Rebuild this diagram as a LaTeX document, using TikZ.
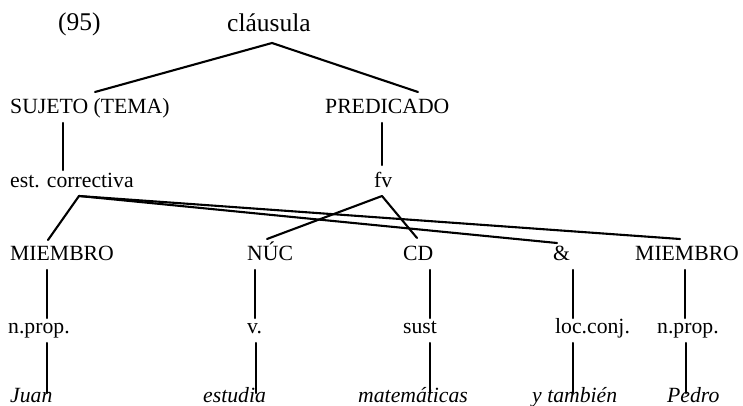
\documentclass[tikz,border=0pt]{standalone}
\usepackage{fontspec}
\setmainfont{Liberation Serif}
\usetikzlibrary{calc}
\begin{document}
\begin{tikzpicture}[x=1pt,y=-1pt,
  lbl/.style={inner sep=0pt, anchor=base west, font=\fontsize{21.7}{26}\selectfont},
  big/.style={lbl, font=\fontsize{25.5}{30}\selectfont},
  ital/.style={lbl, font=\fontsize{21.7}{26}\selectfont\itshape},
  edge/.style={line width=2.1pt, line cap=round, line join=round}]
\useasboundingbox (0,0) rectangle (743,406);
% row 1
\node[big] (num) at (58,31) {(95)};
\node[big] (cl) at (227,32) {cláusula};
% row 2
\node[lbl] (suj) at (10,114) {SUJETO (TEMA)};
\node[lbl] (pred) at (325,114) {PREDICADO};
% row 3
\node[lbl] (est) at (10,187) {est. correctiva};
\node[lbl] (fv) at (374,187) {fv};
% row 4
\node[lbl] (m1) at (10,260) {MIEMBRO};
\node[lbl] (nuc) at (247,260) {NÚC};
\node[lbl] (cd) at (403,260) {CD};
\node[lbl] (amp) at (553,260) {\&};
\node[lbl] (m2) at (635,260) {MIEMBRO};
% row 5
\node[lbl] (np1) at (8,333) {n.prop.};
\node[lbl] (v) at (247,333) {v.};
\node[lbl] (sust) at (403,333) {sust};
\node[lbl] (loc) at (555,333) {loc.conj.};
\node[lbl] (np2) at (657,333) {n.prop.};
% row 6
\node[ital] (juan) at (10,402) {Juan};
\node[ital] (estud) at (203,402) {estudia};
\node[ital] (mat) at (358,402) {matemáticas};
\node[ital] (ytam) at (532,402) {y también};
\node[ital] (pedro) at (667,402) {Pedro};
% connectors
\draw[edge] ($(suj.base west)+(85,-22)$) -- ($(cl.base west)+(45,11)$) -- ($(pred.base west)+(93,-22)$);
\draw[edge] ($(suj.base west)+(53,9)$) -- ($(est.base west)+(53,-17)$);
\draw[edge] ($(pred.base west)+(57,9)$) -- ($(fv.base west)+(8,-22)$);
\draw[edge] ($(m1.base west)+(38,-20)$) -- ($(est.base west)+(69,9)$) -- ($(amp.base west)+(4,-17)$);
\draw[edge] ($(est.base west)+(69,9)$) -- ($(m2.base west)+(45,-21)$);
\draw[edge] ($(nuc.base west)+(20,-21)$) -- ($(fv.base west)+(8,9)$) -- ($(cd.base west)+(14,-22)$);
% row 4 -> 5
\draw[edge] ($(m1.base west)+(37,10)$) -- ($(np1.base west)+(39,-15)$);
\draw[edge] ($(nuc.base west)+(8,10)$) -- ($(v.base west)+(8,-15)$);
\draw[edge] ($(cd.base west)+(27,10)$) -- ($(sust.base west)+(27,-15)$);
\draw[edge] ($(amp.base west)+(20,10)$) -- ($(loc.base west)+(18,-15)$);
\draw[edge] ($(m2.base west)+(50,10)$) -- ($(np2.base west)+(28,-15)$);
% row 5 -> 6
\draw[edge] ($(np1.base west)+(39,10)$) -- ($(juan.base west)+(37,-9)$);
\draw[edge] ($(v.base west)+(9,10)$) -- ($(estud.base west)+(53,-9)$);
\draw[edge] ($(sust.base west)+(27,10)$) -- ($(mat.base west)+(72,-9)$);
\draw[edge] ($(loc.base west)+(18,10)$) -- ($(ytam.base west)+(41,-9)$);
\draw[edge] ($(np2.base west)+(29,10)$) -- ($(pedro.base west)+(19,-9)$);
\end{tikzpicture}
\end{document}
